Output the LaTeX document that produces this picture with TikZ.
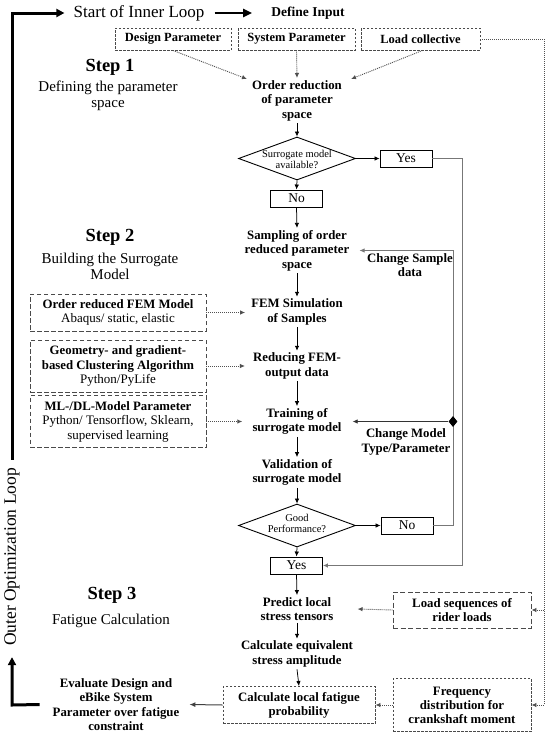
\documentclass[tikz,border=0pt]{standalone}
\usepackage{fontspec}
\setmainfont{Liberation Serif}
\usetikzlibrary{arrows.meta,shapes.geometric,calc}
\definecolor{boxgray}{HTML}{4A4A4A}
\definecolor{dotgray}{HTML}{505050}
\definecolor{loopgray}{HTML}{777777}
\tikzset{
  bt/.style={font=\fontsize{12.8}{14.5}\selectfont\bfseries, align=center, inner sep=2pt},
  rt/.style={font=\fontsize{15}{16}\selectfont, align=center, inner sep=1pt},
  steptitle/.style={font=\fontsize{18.5}{20}\selectfont\bfseries, inner sep=1pt},
  ynbox/.style={draw=black, line width=0.9pt, minimum width=52pt, minimum height=17pt, inner sep=0pt, font=\fontsize{13.5}{14}\selectfont},
  dia/.style={diamond, draw=black, line width=0.9pt, minimum width=117pt, minimum height=43pt, inner sep=0pt},
  diatext/.style={font=\fontsize{10.5}{11.5}\selectfont, align=center, inner sep=0pt},
  topbox/.style={draw=boxgray, dash pattern=on 2.5pt off 1.5pt, line width=0.9pt, minimum height=22pt, inner sep=0pt, font=\fontsize{12.5}{14}\selectfont\bfseries},
  leftbox/.style={draw=boxgray, dash pattern=on 4.5pt off 2.5pt, line width=0.9pt, minimum width=176pt, inner sep=0pt, align=center, font=\fontsize{13}{14.5}\selectfont},
  shortbox/.style={draw=boxgray, dash pattern=on 2.5pt off 1.5pt, line width=0.9pt, inner sep=0pt, align=center, font=\fontsize{12.8}{14}\selectfont\bfseries},
  longbox/.style={draw=boxgray, dash pattern=on 5pt off 2.5pt, line width=0.9pt, inner sep=0pt, align=center, font=\fontsize{12.8}{14}\selectfont\bfseries},
  arr/.style={-{Latex[length=5pt,width=4.5pt]}, line width=0.75pt},
  darr/.style={-{Latex[length=5pt,width=4.5pt]}, line width=0.9pt, dash pattern=on 1pt off 1pt, draw=dotgray},
  dline/.style={line width=0.9pt, dash pattern=on 1pt off 1pt, draw=dotgray},
  garr/.style={-{Latex[length=5pt,width=4.5pt]}, line width=0.9pt, draw=loopgray},
  tarr/.style={-{Triangle[length=8pt,width=8pt]}, line width=3pt},
}
\begin{document}
\begin{tikzpicture}[x=1pt,y=-1pt]
\useasboundingbox[fill=white] (0,0) rectangle (550,739);

% header
\node[font=\fontsize{17}{17}\selectfont, inner sep=1pt] (start) at (139,13) {Start of Inner Loop};
\node[font=\fontsize{13.5}{14}\selectfont\bfseries, inner sep=1pt] (defin) at (308,13) {Define Input};
\draw[-{Triangle[length=9pt,width=8pt]}, line width=2.8pt, shorten <=9pt, shorten >=18pt] (start.east) -- (defin.west);

% input boxes
\node[topbox, minimum width=116pt] (design) at (173,39) {Design Parameter};
\node[topbox, minimum width=117pt] (system) at (296.5,39) {System Parameter};
\node[topbox, minimum width=119pt] (load) at (420.5,39) {Load collective};

% step labels
\node[steptitle] (s1) at (110,67) {Step 1};
\node[rt] (s1t) at (108,96) {Defining the parameter\\space};
\node[steptitle] (s2) at (110,237) {Step 2};
\node[rt] (s2t) at (110,266) {Building the Surrogate\\Model};
\node[steptitle] (s3) at (112,595) {Step 3};
\node[rt] (s3t) at (111,621) {Fatigue Calculation};

% main column
\node[bt] (order) at (297,100.5) {Order reduction\\of parameter\\space};
\node[dia] (d1) at (297,158.5) {};
\node[diatext] (d1t) at (297,159.5) {Surrogate model\\available?};
\node[ynbox] (yes1) at (406,158.5) {Yes};
\node[ynbox] (no1) at (296.5,198.5) {No};
\node[bt] (samp) at (297,250.5) {Sampling of order\\reduced parameter\\space};
\node[bt] (fem) at (297,312) {FEM Simulation\\of Samples};
\node[bt] (red) at (297,366) {Reducing FEM-\\output data};
\node[bt] (train) at (297,421.5) {Training of\\surrogate model};
\node[bt] (valid) at (297,472.5) {Validation of\\surrogate model};
\node[dia] (d2) at (297,525.5) {};
\node[diatext] (d2t) at (297,523.5) {Good\\Performance?};
\node[ynbox] (no2) at (407,525.5) {No};
\node[ynbox] (yes2) at (296.5,565.5) {Yes};
\node[bt] (pred) at (297,609) {Predict local\\stress tensors};
\node[bt] (calceq) at (297,654) {Calculate equivalent\\stress amplitude};
\node[shortbox, minimum width=152pt, minimum height=37pt] (calcl) at (299,705) {Calculate local fatigue\\probability};
\node[bt] (eval) at (116,704.5) {Evaluate Design and\\eBike System\\Parameter over fatigue\\constraint};

% left boxes
\node[leftbox, minimum height=37pt] (femm) at (118,312.5) {{\bfseries\fontsize{12.8}{14.5}\selectfont Order reduced FEM Model}\\Abaqus/ static, elastic};
\node[leftbox, minimum height=52pt] (geo) at (118,366) {{\bfseries\fontsize{12.8}{14.5}\selectfont Geometry- and gradient-}\\{\bfseries\fontsize{12.8}{14.5}\selectfont based Clustering Algorithm}\\Python/PyLife};
\node[leftbox, minimum height=52pt] (ml) at (118,421.5) {{\bfseries\fontsize{12.8}{14.5}\selectfont ML-/DL-Model Parameter}\\Python/ Tensorflow, Sklearn,\\supervised learning};

% right boxes
\node[longbox, minimum width=138pt, minimum height=36pt] (loadseq) at (462,610) {Load sequences of\\rider loads};
\node[shortbox, minimum width=138pt, minimum height=53pt] (freq) at (462,705) {Frequency\\distribution for\\crankshaft moment};

% loop labels
\node[bt] (chs) at (410,265) {Change Sample\\data};
\node[bt] (chm) at (406,442) {Change Model\\Type/Parameter};

% input arrows
\draw[darr] (design.south) -- ([xshift=-3pt,yshift=-1pt]order.north west);
\draw[darr] (system.south) -- (order.north);
\draw[darr] ([xshift=2pt]load.south) -- ([xshift=7pt,yshift=-1pt]order.north east);

% main flow
\draw[arr] (order.south) -- (d1.north);
\draw[arr] (d1.east) -- (yes1.west);
\draw[arr] (d1.south) -- (no1.north);
\draw[arr] (no1.south) -- (samp.north);
\draw[arr] (samp.south) -- (fem.north);
\draw[arr] (fem.south) -- (red.north);
\draw[arr] (red.south) -- (train.north);
\draw[arr] (train.south) -- (valid.north);
\draw[arr] (valid.south) -- (d2.north);
\draw[arr] (d2.east) -- (no2.west);
\draw[arr] (d2.south) -- (yes2.north);
\draw[arr] (yes2.south) -- (pred.north);
\draw[arr] (pred.south) -- (calceq.north);
\draw[arr] (calceq.south) -- (calcl.north);

% left dotted arrows
\draw[darr] (femm.east) -- ([xshift=-4pt]fem.west |- femm.east);
\draw[darr] (geo.east) -- ([xshift=-6pt]red.west |- geo.east);
\draw[darr] (ml.east) -- ([xshift=-8pt]train.west);

% loops
\coordinate (xouter) at (462,0);
\coordinate (xinner) at (453,0);
\draw[garr] (yes1.east) -- (yes1.east -| xouter) |- (yes2.east);
\draw[garr] (no2.east) -- (no2.east -| xinner) |- ([xshift=8pt]samp.east);
\node[diamond, fill=black, minimum width=9pt, minimum height=11pt, inner sep=0pt] (dm) at (453,421.5) {};
\draw[arr, draw=black!80] (dm.west) -- ([xshift=9pt]train.east);

% right dotted feed
\coordinate (xr) at (544,0);
\draw[dline] (load.east) -- (load.east -| xr) -- (freq.east -| xr);
\draw[darr] (loadseq.east -| xr) -- (loadseq.east);
\draw[darr] (freq.east -| xr) -- (freq.east);
\draw[darr] (loadseq.west) -- ([xshift=22pt]pred.east);
\draw[darr] (freq.west) -- (calcl.east);
\draw[-{Latex[length=6pt,width=5pt]}, line width=1pt, draw=black!75] (calcl.west) -- ([xshift=8pt]eval.east);

% outer loop
\node[rotate=90, font=\fontsize{17.5}{18}\selectfont, inner sep=1pt] (outer) at (12,557) {Outer Optimization Loop};
\coordinate (lb) at (12,705);
\coordinate (lt) at (12,13);
\draw[tarr] ([xshift=-11pt]eval.west) -- (lb) -- ([yshift=-10pt]outer.west);
\draw[tarr] ([yshift=7pt]outer.east) -- (lt) -- ([xshift=-8pt]start.west);
\end{tikzpicture}
\end{document}
